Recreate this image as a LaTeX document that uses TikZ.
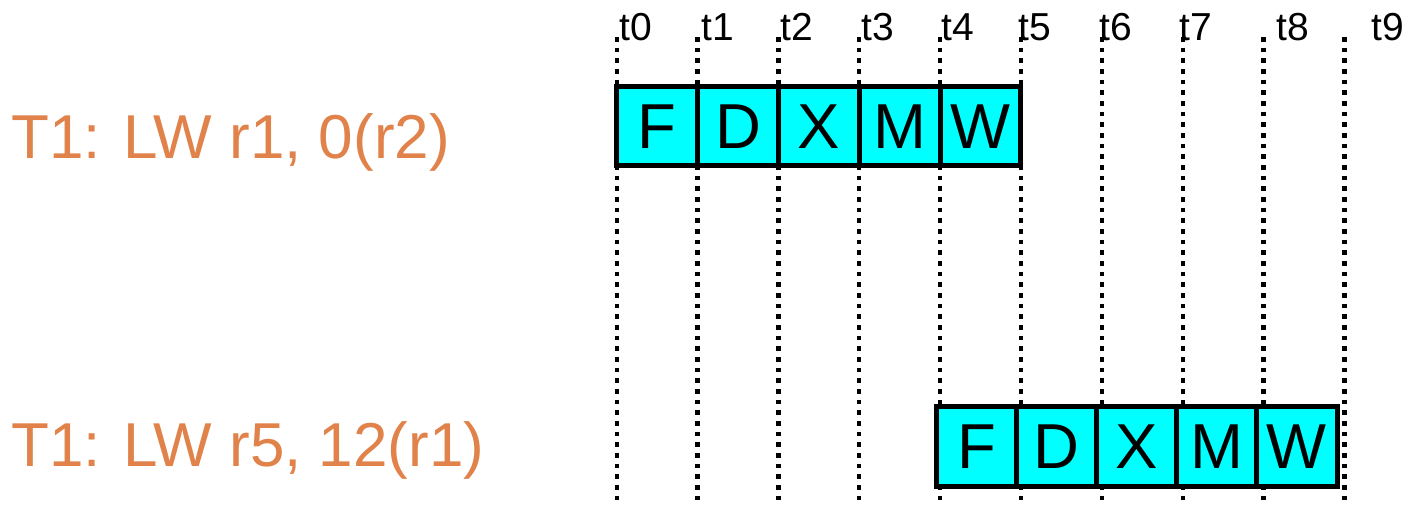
\documentclass[tikz,border=0pt]{standalone}
\usepackage{fontspec}
\setmainfont{Liberation Sans}
\definecolor{instr}{RGB}{224,130,74}
\definecolor{stagefill}{RGB}{0,255,255}
\begin{document}
\begin{tikzpicture}[x=1pt,y=-1pt,
  gridline/.style={line width=4.3pt,dash pattern=on 4.5pt off 6.17pt},
  stagebox/.style={draw,line width=5pt,fill=stagefill,inner sep=0pt,
    minimum width=80.85pt,minimum height=79.3pt,
    font=\fontsize{63.5}{64}\selectfont},
  lowbox/.style={stagebox,minimum width=80.1pt,minimum height=80.2pt},
  ticklabel/.style={anchor=base west,inner sep=0pt,font=\fontsize{39}{40}\selectfont},
  instrlabel/.style={anchor=base west,inner sep=0pt,text=instr,font=\fontsize{62}{63}\selectfont}]
\useasboundingbox (0,0) rectangle (1406,504);

% time grid: dotted lines
\foreach \i in {0,...,9}{
  \coordinate (top\i) at ({616.7+80.85*\i},37);
  \coordinate (bot\i) at ({616.7+80.85*\i},504);
  \draw[gridline] (top\i) -- (bot\i);
}
% cycle labels
\foreach \i/\x in {0/619,1/701,2/780,3/861,4/941,5/1018,6/1099,7/1179,8/1276,9/1371}{
  \node[ticklabel] (lab\i) at (\x,40.5) {t\i};
}

% first instruction
\node[instrlabel] (ia) at (11,158) {T1: LW r1, 0(r2)};
\foreach \s [count=\k from 0] in {F,D,X,M,W}{
  \node[stagebox] (a\s) at ({657.1+80.85*\k},126.2) {\s};
}

% second instruction
\node[instrlabel] (ib) at (11,466) {T1: LW r5, 12(r1)};
\foreach \s [count=\k from 0] in {F,D,X,M,W}{
  \node[lowbox] (b\s) at ({976.55+80.1*\k},446.6) {\s};
}
\end{tikzpicture}
\end{document}
